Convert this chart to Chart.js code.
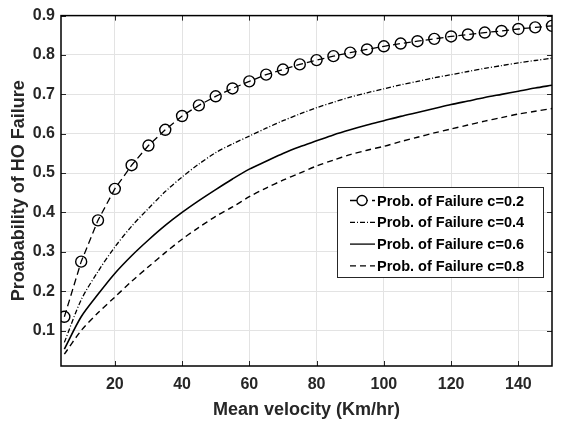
<!DOCTYPE html>
<html>
<head>
<meta charset="utf-8">
<script src="https://cdn.jsdelivr.net/npm/chart.js@4"></script>
<style>
  body { margin: 0; background: #fff; }
  #wrap { width: 562px; height: 421px; }
</style>
</head>
<body>
<div id="wrap"><canvas id="grafica" width="562" height="421"></canvas></div>
<script>
let velocidad = [5, 10, 15, 20, 25, 30, 35, 40, 45, 50, 55, 60, 65, 70, 75, 80, 85, 90, 95, 100, 105, 110, 115, 120, 125, 130, 135, 140, 145, 150];
let falloC02 = [0.135, 0.275, 0.38, 0.46, 0.52, 0.57, 0.61, 0.645, 0.672, 0.695, 0.715, 0.733, 0.75, 0.763, 0.776, 0.787, 0.797, 0.806, 0.814, 0.822, 0.829, 0.835, 0.841, 0.847, 0.852, 0.857, 0.861, 0.866, 0.87, 0.874];
let falloC04 = [0.07, 0.178, 0.25, 0.312, 0.365, 0.41, 0.453, 0.49, 0.523, 0.552, 0.574, 0.594, 0.614, 0.633, 0.65, 0.666, 0.68, 0.693, 0.704, 0.714, 0.724, 0.733, 0.742, 0.75, 0.758, 0.766, 0.773, 0.78, 0.786, 0.792];
let falloC06 = [0.053, 0.135, 0.192, 0.245, 0.29, 0.33, 0.367, 0.4, 0.43, 0.458, 0.485, 0.51, 0.53, 0.55, 0.567, 0.582, 0.597, 0.61, 0.622, 0.633, 0.644, 0.654, 0.664, 0.674, 0.683, 0.692, 0.7, 0.708, 0.716, 0.723];
let falloC08 = [0.04, 0.1, 0.145, 0.185, 0.225, 0.262, 0.298, 0.332, 0.362, 0.39, 0.414, 0.44, 0.462, 0.482, 0.5, 0.518, 0.533, 0.547, 0.558, 0.568, 0.58, 0.591, 0.602, 0.612, 0.622, 0.632, 0.641, 0.65, 0.657, 0.664];
let etiquetas = ["Prob. of Failure c=0.2", "Prob. of Failure c=0.4", "Prob. of Failure c=0.6", "Prob. of Failure c=0.8"];
let ticksX = [20, 40, 60, 80, 100, 120, 140];
let ticksY = [0.1, 0.2, 0.3, 0.4, 0.5, 0.6, 0.7, 0.8, 0.9];

const colorTexto = "#262626";
const fuente = "'Liberation Sans', Arial, sans-serif";
const trazos = [[7, 4], [5, 2, 1, 2], [], [6, 4]];

function puntos(valores) {
    return velocidad.map((v, i) => ({ x: v, y: valores[i] }));
}

// caja, marcas hacia dentro y leyenda al estilo MATLAB
const marcoYLeyenda = {
    id: "marcoYLeyenda",
    afterDraw(chart) {
        let ctx = chart.ctx;
        let a = chart.chartArea;
        let sx = chart.scales.x, sy = chart.scales.y;
        ctx.save();
        ctx.strokeStyle = "#262626";
        ctx.lineWidth = 1;
        ticksX.forEach(t => {
            let px = Math.round(sx.getPixelForValue(t)) + 0.5;
            ctx.beginPath();
            ctx.moveTo(px, a.bottom); ctx.lineTo(px, a.bottom - 5);
            ctx.moveTo(px, a.top); ctx.lineTo(px, a.top + 5);
            ctx.stroke();
        });
        ticksY.forEach(t => {
            let py = Math.round(sy.getPixelForValue(t)) + 0.5;
            ctx.beginPath();
            ctx.moveTo(a.left, py); ctx.lineTo(a.left + 5, py);
            ctx.moveTo(a.right, py); ctx.lineTo(a.right - 5, py);
            ctx.stroke();
        });
        ctx.lineWidth = 1.5;
        ctx.strokeStyle = "#000";
        ctx.strokeRect(a.left, a.top, a.right - a.left, a.bottom - a.top);

        // leyenda
        let lx = 337, ly = 187, lw = 206, lh = 90;
        ctx.fillStyle = "#fff";
        ctx.fillRect(lx, ly, lw, lh);
        ctx.lineWidth = 1;
        ctx.strokeStyle = "#262626";
        ctx.strokeRect(lx + 0.5, ly + 0.5, lw, lh);
        ctx.font = "bold 14.5px " + fuente;
        ctx.textBaseline = "middle";
        etiquetas.forEach((txt, i) => {
            let y = ly + 13.5 + i * 21.8;
            ctx.strokeStyle = "#000";
            ctx.lineWidth = 1.3;
            ctx.setLineDash(trazos[i]);
            ctx.beginPath();
            ctx.moveTo(lx + 13, y); ctx.lineTo(lx + 38, y);
            ctx.stroke();
            ctx.setLineDash([]);
            if (i === 0) {
                ctx.fillStyle = "#fff";
                ctx.beginPath(); ctx.arc(lx + 25, y, 5, 0, Math.PI * 2); ctx.fill();
                ctx.beginPath(); ctx.arc(lx + 25, y, 5, 0, Math.PI * 2); ctx.stroke();
            }
            ctx.fillStyle = "#000";
            ctx.fillText(txt, lx + 40, y + 1);
        });
        ctx.restore();
    }
};

let ctx = document.getElementById("grafica").getContext("2d");
new Chart(ctx, {
    type: "line",
    data: {
        datasets: [
            {
                label: etiquetas[0],
                data: puntos(falloC02),
                borderColor: "#000",
                borderWidth: 1.3,
                borderDash: trazos[0],
                pointStyle: "circle",
                pointRadius: 5.5,
                pointBorderWidth: 1.4,
                pointBorderColor: "#000",
                pointBackgroundColor: "rgba(0,0,0,0)",
                fill: false,
                tension: 0
            },
            {
                label: etiquetas[1],
                data: puntos(falloC04),
                borderColor: "#000",
                borderWidth: 1.3,
                borderDash: trazos[1],
                pointRadius: 0,
                fill: false,
                tension: 0.3
            },
            {
                label: etiquetas[2],
                data: puntos(falloC06),
                borderColor: "#000",
                borderWidth: 1.6,
                pointRadius: 0,
                fill: false,
                tension: 0.3
            },
            {
                label: etiquetas[3],
                data: puntos(falloC08),
                borderColor: "#000",
                borderWidth: 1.4,
                borderDash: trazos[3],
                pointRadius: 0,
                fill: false,
                tension: 0.3
            }
        ]
    },
    options: {
        responsive: false,
        animation: false,
        layout: { padding: { top: 14, right: 10, left: 0, bottom: 0 } },
        plugins: {
            legend: { display: false },
            tooltip: { enabled: false }
        },
        scales: {
            x: {
                type: "linear",
                min: 4,
                max: 150,
                afterBuildTicks: axis => { axis.ticks = ticksX.map(v => ({ value: v })); },
                afterFit: axis => { axis.height = 55; },
                grid: { color: "#e3e3e3", drawTicks: false },
                border: { display: false },
                ticks: {
                    color: colorTexto,
                    padding: 9,
                    maxRotation: 0,
                    font: { family: fuente, size: 16, weight: "bold" }
                },
                title: {
                    display: true,
                    text: "Mean velocity (Km/hr)",
                    color: colorTexto,
                    padding: { top: 0, bottom: 0 },
                    font: { family: fuente, size: 18, weight: "bold" }
                }
            },
            y: {
                min: 0.01,
                max: 0.9,
                afterBuildTicks: axis => { axis.ticks = ticksY.map(v => ({ value: v })); },
                afterFit: axis => { axis.width = 61; },
                grid: { color: "#e3e3e3", drawTicks: false },
                border: { display: false },
                ticks: {
                    color: colorTexto,
                    padding: 6,
                    callback: v => v.toFixed(1),
                    font: { family: fuente, size: 16, weight: "bold" }
                },
                title: {
                    display: true,
                    text: "Proabability of HO Failure",
                    color: colorTexto,
                    padding: { top: 8, bottom: 0 },
                    font: { family: fuente, size: 18, weight: "bold" }
                }
            }
        }
    },
    plugins: [marcoYLeyenda]
});
</script>
</body>
</html>
